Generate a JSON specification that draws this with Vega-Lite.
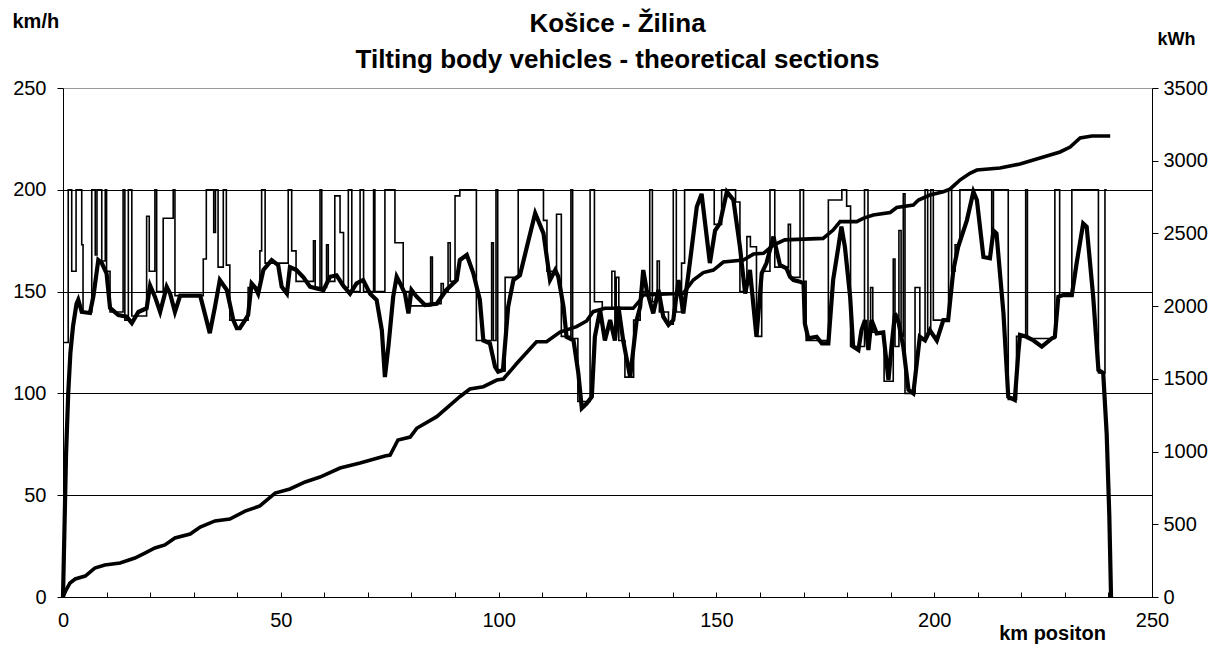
{
  "$schema": "https://vega.github.io/schema/vega-lite/v6.json",
  "autosize": "none",
  "width": 1089,
  "height": 509,
  "padding": {"left": 63, "top": 88, "right": 80, "bottom": 48},
  "background": "white",
  "config": {
    "view": {"stroke": null},
    "font": "Liberation Sans",
    "axis": {"labelFont": "Liberation Sans", "titleFont": "Liberation Sans", "labelColor": "black", "titleColor": "black", "domainColor": "black", "tickColor": "black", "labelFontSize": 20, "titleFontSize": 20, "titleFontWeight": "bold", "labelFlush": false}
  },
  "title": {
    "text": ["Košice - Žilina", "Tilting body vehicles - theoretical sections"],
    "font": "Liberation Sans",
    "fontSize": 26,
    "fontWeight": "bold",
    "color": "black",
    "anchor": "middle",
    "lineHeight": 36,
    "offset": -62,
    "dx": 10
  },
  "datasets": {
    "limit": [
      {"km":0,"v":125},{"km":1.2,"v":200},{"km":2.0,"v":160},{"km":3.0,"v":200},{"km":4.3,"v":173},{"km":4.6,"v":140},
      {"km":6.6,"v":200},{"km":7.4,"v":168},{"km":7.8,"v":200},{"km":8.9,"v":165},{"km":9.7,"v":200},{"km":10.0,"v":160},
      {"km":10.8,"v":140},{"km":13.8,"v":200},{"km":14.2,"v":136},{"km":15.0,"v":200},{"km":15.8,"v":138},{"km":19.2,"v":187},
      {"km":19.8,"v":160},{"km":21.1,"v":200},{"km":21.5,"v":150},{"km":23.0,"v":186},{"km":25.3,"v":200},{"km":25.7,"v":148},
      {"km":32.2,"v":166},{"km":32.9,"v":200},{"km":34.6,"v":179},{"km":35.0,"v":200},{"km":35.6,"v":162},{"km":36.8,"v":200},
      {"km":37.5,"v":163},{"km":38.3,"v":136},{"km":42.5,"v":152},{"km":45.2,"v":170},{"km":45.6,"v":200},{"km":46.4,"v":164},
      {"km":51.7,"v":200},{"km":52.5,"v":170},{"km":53.5,"v":155},{"km":57.5,"v":175},{"km":57.9,"v":152},{"km":59.0,"v":200},
      {"km":59.4,"v":152},{"km":60.5,"v":173},{"km":60.9,"v":155},{"km":62.4,"v":197},{"km":63.6,"v":179},{"km":64.4,"v":152},
      {"km":65.5,"v":200},{"km":66.3,"v":150},{"km":68.2,"v":200},{"km":69.0,"v":150},{"km":71.3,"v":200},{"km":71.6,"v":150},
      {"km":73.9,"v":200},{"km":76.2,"v":174},{"km":78.1,"v":150},{"km":79.5,"v":143},{"km":84.4,"v":167},{"km":84.8,"v":144},
      {"km":86.8,"v":154},{"km":87.3,"v":150},{"km":88.4,"v":174},{"km":88.9,"v":155},{"km":90.0,"v":197},{"km":91.1,"v":200},
      {"km":94.9,"v":126},{"km":98.4,"v":174},{"km":98.8,"v":126},{"km":99.4,"v":200},{"km":99.8,"v":111},{"km":101.5,"v":157},
      {"km":104.5,"v":200},{"km":110.3,"v":185},{"km":111.1,"v":160},{"km":113.3,"v":188},{"km":114.4,"v":128},{"km":116.6,"v":200},
      {"km":117.0,"v":127},{"km":118.2,"v":96},{"km":121.0,"v":200},{"km":122.0,"v":145},{"km":123.8,"v":142},{"km":126.0,"v":160},
      {"km":126.7,"v":128},{"km":127.0,"v":157},{"km":127.6,"v":126},{"km":129.0,"v":108},{"km":131.0,"v":136},{"km":132.5,"v":150},
      {"km":134.7,"v":200},{"km":135.3,"v":145},{"km":136.4,"v":165},{"km":136.9,"v":140},{"km":139.0,"v":134},{"km":140.1,"v":200},
      {"km":140.8,"v":140},{"km":142.0,"v":164},{"km":142.7,"v":200},{"km":149.5,"v":183},{"km":151.2,"v":200},{"km":154.4,"v":194},
      {"km":155.4,"v":150},{"km":157.0,"v":177},{"km":157.8,"v":172},{"km":159.2,"v":128},{"km":160.4,"v":160},{"km":162.3,"v":200},
      {"km":163.4,"v":162},{"km":166.5,"v":183},{"km":167.0,"v":157},{"km":169.2,"v":200},{"km":170.0,"v":155},{"km":170.6,"v":126},
      {"km":175.7,"v":195},{"km":178.8,"v":200},{"km":179.9,"v":192},{"km":180.8,"v":123},{"km":184.0,"v":200},{"km":184.8,"v":131},
      {"km":185.4,"v":152},{"km":185.9,"v":130},{"km":188.5,"v":106},{"km":190.6,"v":166},{"km":191.0,"v":123},{"km":191.9,"v":180},
      {"km":192.4,"v":128},{"km":192.9,"v":198},{"km":193.3,"v":100},{"km":195.6,"v":152},{"km":196.7,"v":127},{"km":197.9,"v":200},
      {"km":198.5,"v":130},{"km":199.2,"v":200},{"km":199.8,"v":136},{"km":203.3,"v":200},{"km":204.0,"v":160},{"km":204.8,"v":173},
      {"km":205.9,"v":200},{"km":213.2,"v":179},{"km":213.6,"v":200},{"km":217.0,"v":97},{"km":218.9,"v":128},{"km":221.0,"v":200},
      {"km":221.4,"v":127},{"km":227.7,"v":200},{"km":228.8,"v":148},{"km":231.6,"v":200},{"km":237.7,"v":110},{"km":239.2,"v":200},
      {"km":239.6,"v":200}
    ],
    "speed": [
      {"km":0,"v":0},{"km":0.3,"v":30},{"km":0.7,"v":70},{"km":1.2,"v":100},{"km":1.7,"v":120},{"km":2.3,"v":133},{"km":3.1,"v":144},
      {"km":3.5,"v":146},{"km":4.3,"v":140},{"km":6.2,"v":139.5},{"km":7.0,"v":148},{"km":8.1,"v":165.5},{"km":8.9,"v":164},{"km":10.0,"v":159},
      {"km":10.8,"v":142},{"km":12.7,"v":138.5},{"km":14.6,"v":137.7},{"km":15.8,"v":134.5},{"km":17.3,"v":140},{"km":19.2,"v":141.8},
      {"km":20.0,"v":153},{"km":21.1,"v":147.5},{"km":22.3,"v":140},{"km":23.8,"v":152.4},{"km":24.6,"v":149},{"km":25.7,"v":140},
      {"km":26.9,"v":148},{"km":31.5,"v":148},{"km":33.7,"v":129.6},{"km":34.9,"v":142.6},{"km":36.0,"v":155.7},{"km":37.6,"v":150.8},
      {"km":39.1,"v":136},{"km":39.9,"v":132},{"km":40.6,"v":132},{"km":41.8,"v":136},{"km":42.5,"v":138.5},{"km":43.3,"v":154},
      {"km":44.1,"v":152},{"km":44.8,"v":149},{"km":46.0,"v":160.6},{"km":47.9,"v":165.5},{"km":49.4,"v":163},{"km":50.2,"v":152.4},
      {"km":51.4,"v":149},{"km":52.1,"v":162},{"km":53.6,"v":160.6},{"km":55.2,"v":157},{"km":56.7,"v":152.4},{"km":58.2,"v":151.6},
      {"km":59.8,"v":150.8},{"km":61.3,"v":157.3},{"km":62.8,"v":158},{"km":64.3,"v":153},{"km":65.9,"v":149},{"km":67.4,"v":154},
      {"km":68.9,"v":155.7},{"km":70.5,"v":149},{"km":72.0,"v":145.9},{"km":73.2,"v":131},{"km":73.9,"v":108},{"km":74.7,"v":123},
      {"km":75.8,"v":147.5},{"km":76.6,"v":157.3},{"km":77.4,"v":154},{"km":78.5,"v":149},{"km":79.3,"v":139.3},{"km":80.0,"v":150.8},
      {"km":81.2,"v":147.5},{"km":83.1,"v":143.4},{"km":85.8,"v":144},{"km":88.0,"v":150.8},{"km":90.4,"v":155.7},{"km":91.1,"v":165.5},
      {"km":92.7,"v":168},{"km":94.2,"v":159},{"km":95.7,"v":145.9},{"km":96.5,"v":126},{"km":98.0,"v":124.6},{"km":99.2,"v":113},
      {"km":99.9,"v":110.7},{"km":101.0,"v":111.5},{"km":102.2,"v":142.6},{"km":103.4,"v":155.7},{"km":104.9,"v":158},{"km":106.5,"v":172},
      {"km":108.4,"v":188.5},{"km":110.3,"v":178.6},{"km":111.8,"v":155.7},{"km":113.0,"v":160.6},{"km":113.7,"v":157.3},{"km":114.9,"v":142.6},
      {"km":115.6,"v":127.8},{"km":117.2,"v":126},{"km":118.3,"v":110},{"km":119.1,"v":92.7},{"km":120.2,"v":95},{"km":121.4,"v":98.4},
      {"km":122.1,"v":127.8},{"km":123.3,"v":141},{"km":124.4,"v":126},{"km":125.6,"v":136},{"km":126.7,"v":126},{"km":127.5,"v":142.6},
      {"km":128.6,"v":126},{"km":130.2,"v":108},{"km":131.7,"v":136},{"km":132.5,"v":142.6},{"km":133.2,"v":160.6},{"km":134.0,"v":150.8},
      {"km":135.5,"v":139.3},{"km":136.7,"v":150.8},{"km":137.8,"v":137.7},{"km":139.0,"v":133.6},{"km":140.1,"v":136},{"km":141.3,"v":155.7},
      {"km":142.4,"v":139.3},{"km":143.9,"v":164},{"km":145.5,"v":191.7},{"km":146.6,"v":198},{"km":148.5,"v":164},{"km":149.7,"v":180},
      {"km":150.8,"v":183.5},{"km":152.4,"v":199},{"km":153.9,"v":195},{"km":155.4,"v":172},{"km":156.6,"v":149},{"km":157.7,"v":160.6},
      {"km":159.2,"v":127.8},{"km":160.4,"v":159},{"km":161.5,"v":164},{"km":163.1,"v":177},{"km":164.6,"v":163},{"km":166.1,"v":161.4},
      {"km":166.9,"v":157.3},{"km":167.7,"v":155.7},{"km":169.2,"v":154.9},{"km":170.0,"v":154},{"km":170.3,"v":134.4},{"km":171.1,"v":127},
      {"km":173.0,"v":127.8},{"km":174.2,"v":124.6},{"km":175.7,"v":124.6},{"km":176.8,"v":155.7},{"km":178.0,"v":172},{"km":178.7,"v":181.9},
      {"km":179.5,"v":172},{"km":180.7,"v":147.5},{"km":181.4,"v":123},{"km":182.6,"v":121.3},{"km":183.3,"v":131},{"km":184.1,"v":136},
      {"km":184.9,"v":121.3},{"km":185.6,"v":136},{"km":186.8,"v":129.5},{"km":188.3,"v":130},{"km":189.5,"v":106.6},{"km":190.2,"v":123},
      {"km":191.0,"v":139.3},{"km":191.8,"v":135},{"km":192.9,"v":123},{"km":194.1,"v":101.7},{"km":195.2,"v":100},{"km":196.0,"v":114.8},
      {"km":196.7,"v":127.8},{"km":197.9,"v":126},{"km":199.0,"v":131},{"km":200.6,"v":126},{"km":202.1,"v":136},{"km":203.2,"v":136},
      {"km":204.4,"v":160.6},{"km":205.5,"v":172},{"km":207.5,"v":185},{"km":209.0,"v":199},{"km":209.8,"v":195},{"km":211.3,"v":167},
      {"km":212.8,"v":166.4},{"km":213.6,"v":180},{"km":214.3,"v":178.6},{"km":215.9,"v":139.3},{"km":217.0,"v":98.4},{"km":218.5,"v":96.8},
      {"km":219.3,"v":119.7},{"km":219.7,"v":128.7},{"km":221.2,"v":127.8},{"km":222.8,"v":126},{"km":224.7,"v":123},{"km":227.0,"v":127},
      {"km":227.7,"v":127.8},{"km":228.5,"v":147.5},{"km":229.6,"v":148.3},{"km":231.6,"v":148.3},{"km":232.7,"v":164},{"km":234.2,"v":183.5},
      {"km":235.0,"v":181.9},{"km":236.5,"v":147.5},{"km":237.7,"v":111.5},{"km":238.8,"v":110},{"km":239.6,"v":80},{"km":240.2,"v":40},
      {"km":240.6,"v":0}
    ],
    "energy": [
      {"km":0,"e":0},{"km":0.7,"e":48},{"km":1.6,"e":96},{"km":2.8,"e":124},{"km":5.1,"e":144},{"km":7.3,"e":199},{"km":9.6,"e":220},
      {"km":13.1,"e":234},{"km":16.5,"e":268},{"km":18.8,"e":302},{"km":21.1,"e":337},{"km":23.4,"e":358},{"km":25.7,"e":406},
      {"km":29.2,"e":433},{"km":31.5,"e":481},{"km":34.9,"e":523},{"km":38.3,"e":536},{"km":41.8,"e":591},{"km":45.2,"e":626},
      {"km":48.7,"e":715},{"km":52.1,"e":743},{"km":55.6,"e":791},{"km":59.0,"e":825},{"km":63.6,"e":887},{"km":68.2,"e":921},
      {"km":73.9,"e":970},{"km":75.1,"e":976},{"km":76.9,"e":1080},{"km":79.7,"e":1100},{"km":81.2,"e":1160},{"km":85.8,"e":1240},
      {"km":91.1,"e":1377},{"km":93.4,"e":1430},{"km":96.5,"e":1446},{"km":99.6,"e":1492},{"km":101.1,"e":1499},{"km":104.2,"e":1607},
      {"km":108.7,"e":1755},{"km":111.0,"e":1755},{"km":114.1,"e":1822},{"km":117.9,"e":1859},{"km":120.2,"e":1898},{"km":121.7,"e":1962},
      {"km":124.4,"e":1985},{"km":130.9,"e":1985},{"km":132.5,"e":2042},{"km":133.2,"e":2077},{"km":142.4,"e":2088},{"km":144.7,"e":2180},
      {"km":147.0,"e":2231},{"km":149.3,"e":2248},{"km":151.6,"e":2303},{"km":156.2,"e":2317},{"km":158.5,"e":2358},{"km":160.8,"e":2363},
      {"km":163.1,"e":2420},{"km":165.7,"e":2456},{"km":174.5,"e":2466},{"km":176.8,"e":2523},{"km":178.4,"e":2581},{"km":182.2,"e":2581},
      {"km":183.7,"e":2604},{"km":186.0,"e":2627},{"km":189.9,"e":2644},{"km":191.4,"e":2678},{"km":195.2,"e":2695},{"km":196.4,"e":2730},
      {"km":199.0,"e":2764},{"km":202.1,"e":2787},{"km":203.6,"e":2805},{"km":205.2,"e":2847},{"km":205.9,"e":2867},{"km":208.2,"e":2913},
      {"km":209.8,"e":2936},{"km":215.1,"e":2950},{"km":219.7,"e":2977},{"km":224.3,"e":3019},{"km":228.9,"e":3060},{"km":231.2,"e":3094},
      {"km":233.5,"e":3156},{"km":236.2,"e":3170},{"km":240.4,"e":3170}
    ]
  },
  "layer": [
    {
      "encoding": {
        "x": {
          "field": "km", "type": "quantitative",
          "scale": {"domain": [0, 250], "nice": false, "zero": false},
          "axis": {
            "values": [0,10,20,30,40,50,60,70,80,90,100,110,120,130,140,150,160,170,180,190,200,210,220,230,240,250],
            "labelExpr": "datum.value % 50 === 0 ? datum.label : ''",
            "tickSize": -5, "labelPadding": 18, "grid": false,
            "title": "km positon", "titleX": 989, "titleY": 36, "titleAlign": "center", "titleBaseline": "middle"
          }
        },
        "y": {
          "field": "v", "type": "quantitative",
          "scale": {"domain": [0, 250], "nice": false},
          "axis": {
            "values": [0,50,100,150,200,250],
            "grid": true,
            "gridColor": {"condition": {"test": "datum.value === 250", "value": "#9a9a9a"}, "value": "black"},
            "gridWidth": 1.2, "gridOpacity": 1,
            "tickSize": 6, "labelPadding": 11,
            "title": "km/h", "titleX": -51, "titleY": -67, "titleAngle": 0, "titleAlign": "left", "titleBaseline": "middle"
          }
        }
      },
      "layer": [
        {"data": {"name": "limit"}, "mark": {"type": "line", "interpolate": "step-after", "color": "black", "strokeWidth": 1.6}},
        {"data": {"name": "speed"}, "mark": {"type": "line", "color": "black", "strokeWidth": 4.2}}
      ]
    },
    {
      "data": {"name": "energy"},
      "mark": {"type": "line", "color": "black", "strokeWidth": 3.6},
      "encoding": {
        "x": {"field": "km", "type": "quantitative"},
        "y": {
          "field": "e", "type": "quantitative",
          "scale": {"domain": [0, 3500], "nice": false},
          "axis": {
            "orient": "right",
            "values": [0,500,1000,1500,2000,2500,3000,3500],
            "format": "d",
            "grid": false, "tickSize": 6, "labelPadding": 5,
            "title": "kWh", "titleFontSize": 18, "titleX": 5, "titleY": -49, "titleAngle": 0, "titleAlign": "left", "titleBaseline": "middle"
          }
        }
      }
    }
  ],
  "resolve": {"scale": {"y": "independent"}}
}
